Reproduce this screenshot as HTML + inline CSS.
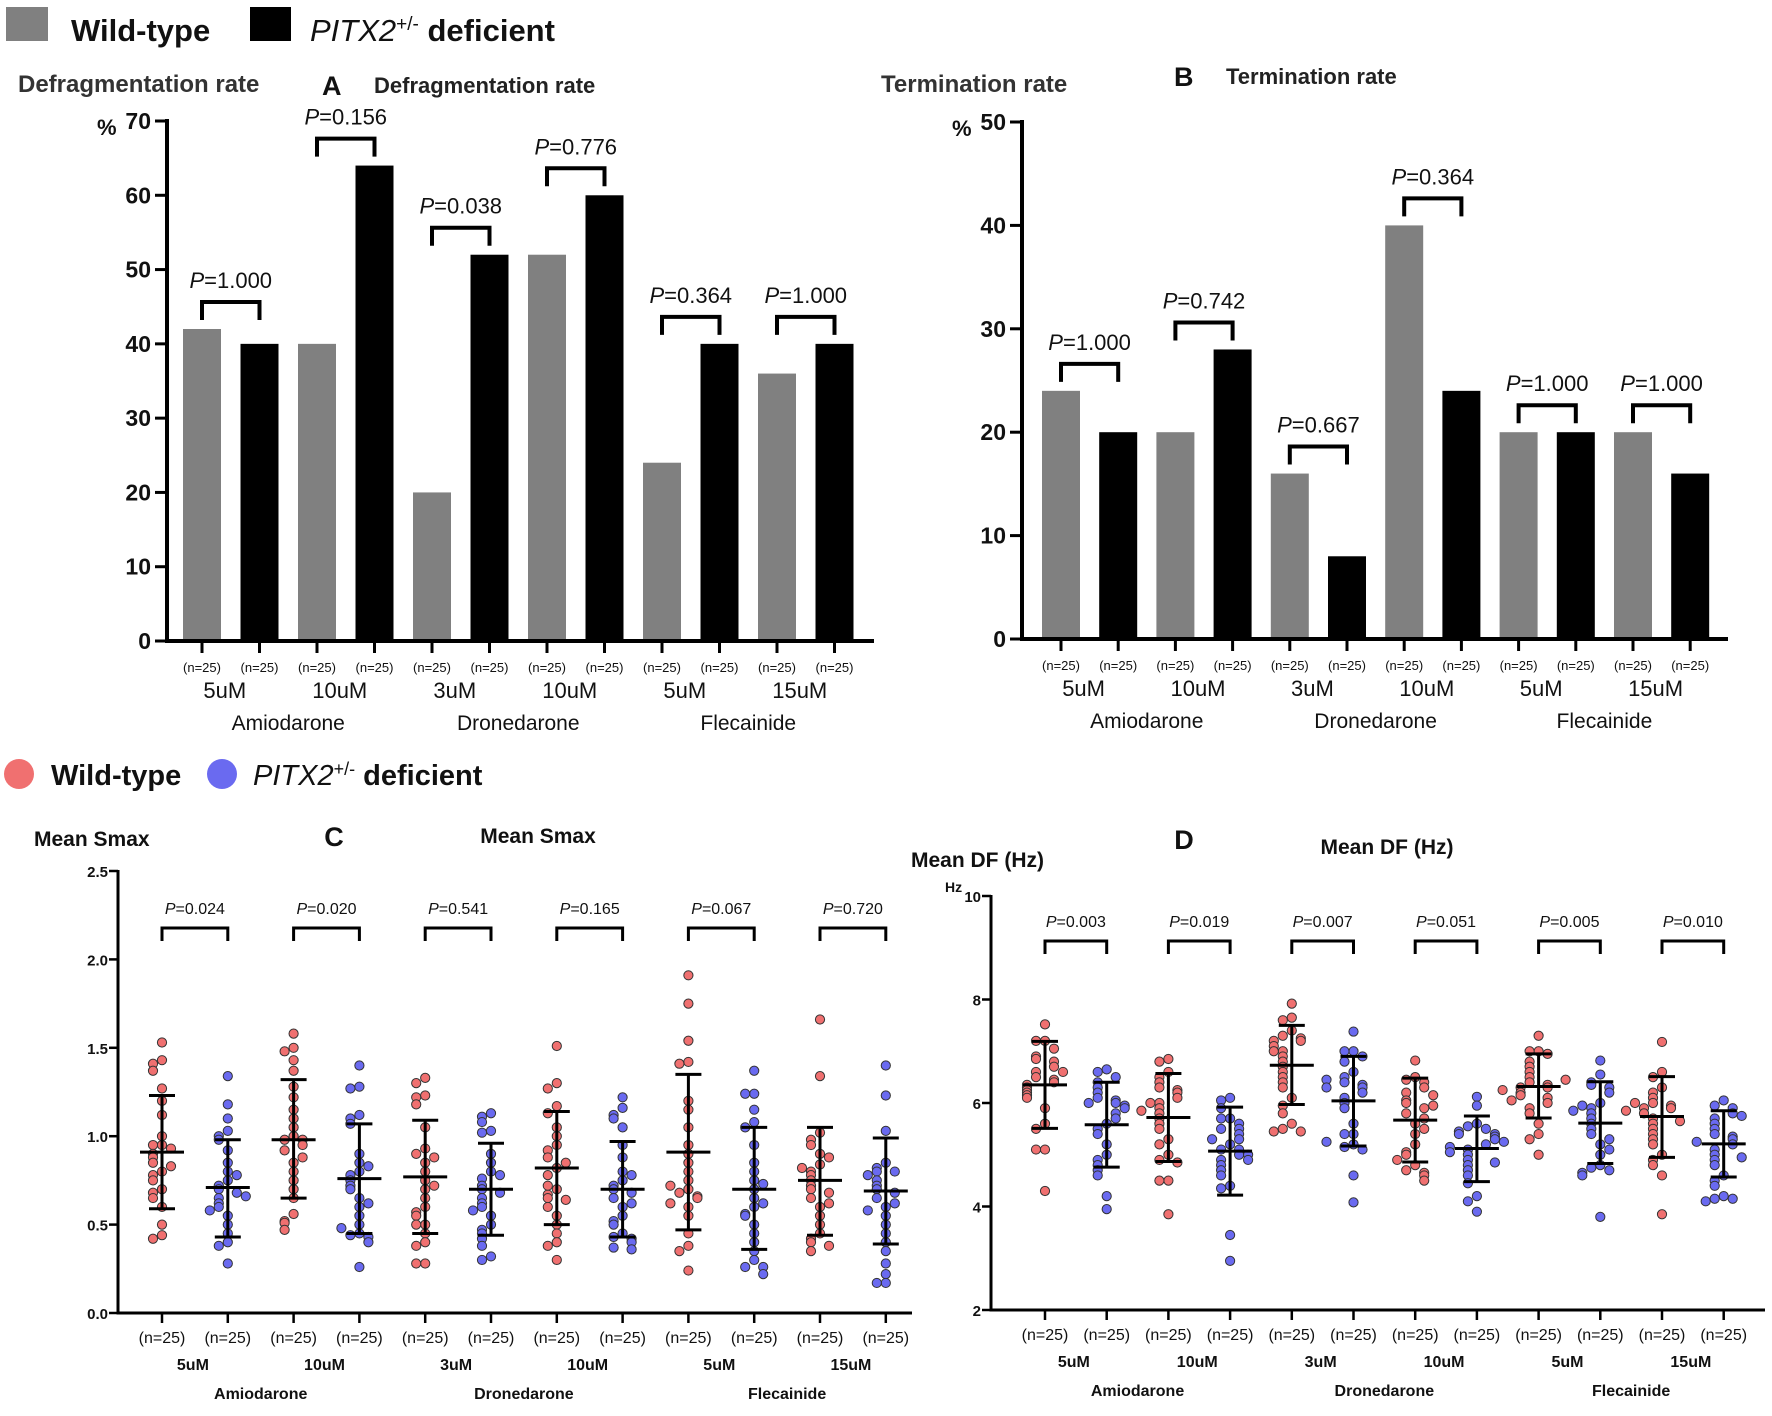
<!DOCTYPE html>
<html><head><meta charset="utf-8"><style>
html,body{margin:0;padding:0;background:#fff;}
svg{display:block;font-family:"Liberation Sans",Arial,sans-serif;}
</style></head><body>
<svg id="fig" width="1772" height="1416" viewBox="0 0 1772 1416" xmlns="http://www.w3.org/2000/svg">
<g>
<rect x="6" y="7" width="42" height="34" fill="#808080"/>
<text x="71" y="41" font-size="31" font-weight="bold" fill="#111">Wild-type</text>
<rect x="250" y="7" width="41" height="34" fill="#000"/>
<text x="310" y="41" font-size="31" font-weight="bold" fill="#111"><tspan font-style="italic" font-weight="normal">PITX2</tspan><tspan font-size="19" dy="-11" font-weight="normal">+/-</tspan><tspan dy="11"> deficient</tspan></text>
</g>
<g>
<circle cx="19" cy="774" r="15" fill="#f07070"/>
<text x="51" y="785" font-size="29" font-weight="bold" fill="#111">Wild-type</text>
<circle cx="222" cy="774" r="15" fill="#6a6af0"/>
<text x="253" y="785" font-size="29" font-weight="bold" fill="#111"><tspan font-style="italic" font-weight="normal">PITX2</tspan><tspan font-size="18" dy="-10" font-weight="normal">+/-</tspan><tspan dy="10"> deficient</tspan></text>
</g>
</svg>
<script>
const barWT_A=[42,40,20,52,24,36];
const barKO_A=[40,64,52,60,40,40];
const pA=["1.000","0.156","0.038","0.776","0.364","1.000"];
const barWT_B=[24,20,16,40,20,20];
const barKO_B=[20,28,8,24,20,16];
const pB=["1.000","0.742","0.667","0.364","1.000","1.000"];
const doses=["5uM","10uM","3uM","10uM","5uM","15uM"];
const drugs=["Amiodarone","Dronedarone","Flecainide"];
const pC=["0.024","0.020","0.541","0.165","0.067","0.720"];
const pD=["0.003","0.019","0.007","0.051","0.005","0.010"];
const ticksA=[0,10,20,30,40,50,60,70];
const ticksB=[0,10,20,30,40,50];
const ticksC=["0.0","0.5","1.0","1.5","2.0","2.5"];
const ticksD=[2,4,6,8,10];
const meanC=[0.91,0.71,0.98,0.76,0.77,0.70,0.82,0.70,0.91,0.70,0.75,0.69];
const upC=[1.23,0.98,1.32,1.07,1.09,0.96,1.14,0.97,1.35,1.05,1.05,0.99];
const loC=[0.59,0.43,0.65,0.45,0.45,0.44,0.50,0.43,0.47,0.36,0.44,0.39];
const ptsC=[
[1.53,1.43,1.41,1.37,1.27,1.2,1.12,1.0,0.95,0.95,0.93,0.9,0.88,0.85,0.8,0.78,0.75,0.7,0.68,0.65,0.6,0.5,0.44,0.42,0.83],
[1.34,1.18,1.1,1.03,1.0,0.98,0.92,0.85,0.8,0.75,0.72,0.7,0.68,0.65,0.62,0.6,0.55,0.5,0.45,0.4,0.38,0.28,0.66,0.58,0.78],
[1.58,1.5,1.48,1.43,1.37,1.28,1.22,1.15,1.05,1.0,0.98,0.98,0.95,0.92,0.85,0.8,0.75,0.7,0.65,0.56,0.52,0.51,0.47,1.1,0.88],
[1.4,1.28,1.27,1.12,1.1,1.07,0.9,0.85,0.8,0.78,0.75,0.72,0.7,0.65,0.6,0.55,0.5,0.45,0.44,0.43,0.4,0.26,0.83,0.62,0.48],
[1.33,1.3,1.23,1.22,1.18,1.05,0.93,0.9,0.85,0.8,0.75,0.7,0.65,0.6,0.57,0.55,0.5,0.5,0.45,0.4,0.38,0.28,0.28,0.88,0.72],
[1.13,1.11,1.08,1.03,1.02,0.9,0.85,0.8,0.76,0.72,0.7,0.68,0.65,0.62,0.6,0.55,0.5,0.47,0.45,0.42,0.38,0.32,0.3,0.78,0.58],
[1.51,1.3,1.27,1.17,1.13,1.05,1.0,0.95,0.92,0.88,0.82,0.78,0.7,0.67,0.65,0.64,0.6,0.55,0.5,0.45,0.4,0.38,0.3,0.85,0.72],
[1.22,1.16,1.12,1.1,1.05,0.95,0.88,0.8,0.75,0.72,0.7,0.68,0.65,0.6,0.55,0.52,0.5,0.45,0.43,0.42,0.4,0.37,0.36,0.62,0.78],
[1.91,1.75,1.54,1.42,1.41,1.2,1.15,1.05,0.95,0.85,0.8,0.75,0.7,0.68,0.66,0.65,0.6,0.55,0.45,0.38,0.35,0.24,0.9,0.72,0.62],
[1.37,1.24,1.24,1.15,1.08,1.05,0.95,0.85,0.75,0.7,0.65,0.6,0.56,0.55,0.5,0.45,0.4,0.35,0.3,0.26,0.26,0.22,0.73,0.62,0.8],
[1.66,1.34,1.02,0.98,0.95,0.9,0.84,0.8,0.78,0.75,0.72,0.7,0.68,0.65,0.6,0.55,0.5,0.45,0.42,0.4,0.38,0.35,0.62,0.82,0.88],
[1.4,1.23,1.03,0.85,0.82,0.8,0.8,0.78,0.75,0.72,0.7,0.68,0.65,0.6,0.55,0.5,0.45,0.4,0.35,0.28,0.22,0.17,0.17,0.62,0.58]];
const meanD=[6.35,5.58,5.72,5.07,6.73,6.04,5.67,5.12,6.32,5.61,5.74,5.21];
const upD=[7.19,6.40,6.57,5.92,7.50,6.90,6.48,5.75,6.95,6.41,6.51,5.85];
const loD=[5.51,4.76,4.87,4.22,5.97,5.17,4.86,4.48,5.71,4.83,4.95,4.57];
const ptsD=[
[7.52,7.2,7.2,7.05,6.9,6.85,6.8,6.7,6.6,6.5,6.45,6.4,6.35,6.3,6.25,6.2,6.15,6.1,5.9,5.6,5.5,5.1,5.1,4.3,6.6],
[6.65,6.6,6.5,6.4,6.3,6.2,6.1,6.05,6.0,6.0,5.95,5.9,5.8,5.6,5.5,5.4,5.2,5.0,4.9,4.8,4.7,4.6,4.2,3.95,5.7],
[6.85,6.8,6.6,6.5,6.4,6.3,6.25,6.2,6.1,6.0,5.9,5.8,5.7,5.6,5.5,5.3,5.0,4.9,4.85,4.5,4.5,3.85,6.0,5.85,5.2],
[6.1,6.05,5.9,5.7,5.7,5.6,5.5,5.5,5.4,5.2,5.1,5.1,5.0,4.9,4.8,4.7,4.4,4.35,3.45,2.95,5.3,5.3,5.0,4.6,4.9],
[7.92,7.65,7.6,7.4,7.3,7.25,7.2,7.2,7.1,7.0,6.9,6.8,6.7,6.6,6.5,6.4,6.3,6.1,5.95,5.8,5.6,5.5,5.45,5.45,7.0],
[7.38,7.0,7.0,6.9,6.8,6.6,6.5,6.4,6.35,6.3,6.2,6.1,6.0,5.9,5.6,5.4,5.4,5.2,5.15,5.1,4.6,4.08,6.45,6.3,5.25],
[6.82,6.5,6.45,6.4,6.3,6.2,6.05,6.0,5.9,5.6,5.4,5.2,5.05,5.0,4.8,4.7,4.65,4.6,4.5,5.8,5.95,5.7,5.5,6.15,4.9],
[6.12,5.95,5.6,5.55,5.5,5.45,5.4,5.4,5.35,5.3,5.2,5.1,5.0,4.9,4.8,4.7,4.6,4.45,4.2,4.1,3.9,5.25,5.15,5.05,4.85],
[7.3,7.0,7.0,6.95,6.8,6.7,6.6,6.5,6.4,6.35,6.3,6.3,6.2,6.15,6.1,6.0,5.9,5.8,5.6,5.4,5.3,5.0,6.25,6.45,6.05],
[6.82,6.55,6.4,6.35,6.3,6.2,6.0,5.9,5.8,5.7,5.6,5.5,5.4,5.2,5.0,4.8,4.75,4.7,4.65,4.6,3.8,5.95,5.85,5.3,5.1],
[7.18,6.6,6.5,6.3,6.2,6.1,6.0,5.95,5.9,5.9,5.8,5.7,5.6,5.5,5.4,5.3,5.2,5.0,4.9,4.8,4.6,3.85,6.0,5.85,5.65],
[6.05,5.95,5.9,5.8,5.7,5.6,5.5,5.4,5.35,5.3,5.2,5.1,5.0,4.9,4.8,4.6,4.5,4.4,4.2,4.15,4.15,4.1,5.75,5.25,4.95]];

const svg=document.getElementById('fig');
const NS='http://www.w3.org/2000/svg';
function mk(tag,attrs,parent,txt){const e=document.createElementNS(NS,tag);for(const k in attrs)e.setAttribute(k,attrs[k]);if(txt!==undefined)e.textContent=txt;(parent||svg).appendChild(e);return e;}
function line(g,x1,y1,x2,y2,w){return mk('line',{x1,y1,x2,y2,stroke:'#000','stroke-width':w},g);}
function ptext(g,x,y,val,fs){const t=mk('text',{x,y,'font-size':fs,'text-anchor':'middle',fill:'#111'},g);const a=document.createElementNS(NS,'tspan');a.setAttribute('font-style','italic');a.textContent='P';t.appendChild(a);const b=document.createElementNS(NS,'tspan');b.textContent='='+val;t.appendChild(b);return t;}

function barPanel(cfg){
  const g=mk('g',{});
  
  
  const y=v=>cfg.y0-(v-cfg.min)/(cfg.max-cfg.min)*(cfg.y0-cfg.yTop);
  const xc=i=>cfg.x1+i*cfg.step;
  const t1=mk('text',{x:cfg.ltx,y:cfg.lty,'font-size':24,'font-weight':'bold',fill:'#333'},g,cfg.title);
  
  
  const t2=mk('text',{x:cfg.lx,y:cfg.ly,'font-size':27,'font-weight':'bold',fill:'#111'},g,cfg.letter);
  
  
  const t3=mk('text',{x:cfg.lx+52,y:cfg.ly-2,'font-size':22,'font-weight':'bold',fill:'#222'},g,cfg.title);
  
  
  const pc=mk('text',{x:cfg.ax-70,y:cfg.yTop+14,'font-size':22,'font-weight':'bold',fill:'#111'},g,'%');
  
  
  cfg.ticks.forEach(v=>{const yy=y(v);line(g,cfg.ax-12,yy,cfg.ax,yy,3);
    const tl=mk('text',{x:cfg.ax-16,y:yy+8,'font-size':23,'font-weight':'bold','text-anchor':'end',fill:'#111'},g,String(v));
    
    });
  for(let k=0;k<6;k++){
    [[cfg.wt[k],'#808080',2*k],[cfg.ko[k],'#000',2*k+1]].forEach(([v,c,i])=>{
      const r=mk('rect',{x:xc(i)-19,y:y(v),width:38,height:cfg.y0-y(v),fill:c},g);
      
      
    });
    const top=Math.min(y(cfg.wt[k]),y(cfg.ko[k]))-27;
    const br=mk('path',{d:`M${xc(2*k)} ${top+18}V${top}H${xc(2*k+1)}V${top+18}`,fill:'none',stroke:'#000','stroke-width':4},g);
    
    
    const pt=ptext(g,(xc(2*k)+xc(2*k+1))/2,top-14,cfg.p[k],22);
    
    
    const dl=mk('text',{x:(xc(2*k)+xc(2*k+1))/2-6,y:cfg.y0+57,'font-size':22,'text-anchor':'middle',fill:'#111'},g,doses[k]);
    
    
  }
  for(let i=0;i<12;i++){line(g,xc(i),cfg.y0,xc(i),cfg.y0+12,3);
    const nl=mk('text',{x:xc(i),y:cfg.y0+31,'font-size':13,'text-anchor':'middle',fill:'#111'},g,'(n=25)');
    
    }
  drugs.forEach((d,j)=>{const cx=(xc(4*j)+xc(4*j+3))/2;
    const gl=mk('text',{x:cx,y:cfg.y0+89,'font-size':21,'text-anchor':'middle',fill:'#111'},g,d);
    
    });
  line(g,cfg.ax,cfg.yTop-2,cfg.ax,cfg.y0+1.5,4);
  line(g,cfg.ax-2,cfg.y0,cfg.right,cfg.y0,4);
}
barPanel({name:'panel-a-defragmentation',letter:'A',wt:barWT_A,ko:barKO_A,p:pA,ticks:ticksA,min:0,max:70,yTop:121,y0:641,ax:167,x1:202,step:57.5,right:874,title:'Defragmentation rate',ltx:18,lty:92,lx:322,ly:95});
barPanel({name:'panel-b-termination',letter:'B',wt:barWT_B,ko:barKO_B,p:pB,ticks:ticksB,min:0,max:50,yTop:122,y0:639,ax:1022,x1:1061,step:57.2,right:1728,title:'Termination rate',ltx:881,lty:92,lx:1174,ly:86});

function dotPanel(cfg){
  const g=mk('g',{});
  
  
  const y=v=>cfg.y0-(v-cfg.min)/(cfg.max-cfg.min)*(cfg.y0-cfg.yTop);
  const xc=i=>cfg.x1+i*cfg.step;
  const t1=mk('text',{x:cfg.ltx,y:cfg.lty,'font-size':21,'font-weight':'bold',fill:'#111'},g,cfg.title);
  
  
  const t2=mk('text',{x:cfg.lx,y:cfg.ly,'font-size':27,'font-weight':'bold','text-anchor':'middle',fill:'#111'},g,cfg.letter);
  
  
  const t3=mk('text',{x:cfg.tx,y:cfg.ty,'font-size':21,'font-weight':'bold','text-anchor':'middle',fill:'#111'},g,cfg.title);
  
  
  if(cfg.unit){const u=mk('text',{x:cfg.ax-46,y:cfg.yTop-4,'font-size':14,'font-weight':'bold',fill:'#111'},g,cfg.unit);
    
    }
  cfg.ticks.forEach(v=>{const yy=y(parseFloat(v));line(g,cfg.ax-9,yy,cfg.ax,yy,2.5);
    const tl=mk('text',{x:cfg.ax-10,y:yy+6,'font-size':15,'font-weight':'bold','text-anchor':'end',fill:'#111'},g,String(v));
    
    });
  for(let i=0;i<12;i++){
    const c=xc(i), col=i%2===0?'#f07070':'#6a6af0';
    const pts=cfg.pts[i];
    const placed=[];
    pts.forEach(v=>{
      const yy=y(v); let n=placed.filter(q=>Math.abs(q-yy)<8).length;
      placed.push(yy);
      const off=(n%2===0?1:-1)*Math.ceil(n/2)*9;
      const d=mk('circle',{cx:c+off,cy:yy,r:4.6,fill:col,stroke:'#333','stroke-width':1},g);
      
      
    });
    const eb=mk('path',{d:`M${c} ${y(cfg.up[i])}V${y(cfg.lo[i])}M${c-13} ${y(cfg.up[i])}H${c+13}M${c-13} ${y(cfg.lo[i])}H${c+13}M${c-22} ${y(cfg.mean[i])}H${c+22}`,fill:'none',stroke:'#000','stroke-width':3},g);
    
    
    line(g,c,cfg.y0,c,cfg.y0+10,2.5);
    const nl=mk('text',{x:c,y:cfg.y0+30,'font-size':16,'text-anchor':'middle',fill:'#111'},g,'(n=25)');
    
    
  }
  for(let k=0;k<6;k++){
    const a=xc(2*k),b=xc(2*k+1);
    const br=mk('path',{d:`M${a} ${cfg.brY+13}V${cfg.brY}H${b}V${cfg.brY+13}`,fill:'none',stroke:'#000','stroke-width':3},g);
    
    
    const pt=ptext(g,(a+b)/2,cfg.brY-14,cfg.p[k],16);
    
    
    const dl=mk('text',{x:(a+b)/2-2,y:cfg.y0+57,'font-size':16,'font-weight':'bold','text-anchor':'middle',fill:'#111'},g,doses[k]);
    
    
  }
  drugs.forEach((d,j)=>{const cx=(xc(4*j)+xc(4*j+3))/2;
    const gl=mk('text',{x:cx,y:cfg.y0+86,'font-size':16,'font-weight':'bold','text-anchor':'middle',fill:'#111'},g,d);
    
    });
  line(g,cfg.ax,cfg.yTop-1,cfg.ax,cfg.y0+1.5,3);
  line(g,cfg.ax-1.5,cfg.y0,cfg.right,cfg.y0,3);
}
dotPanel({name:'panel-c-mean-smax',letter:'C',title:'Mean Smax',pts:ptsC,mean:meanC,up:upC,lo:loC,p:pC,ticks:ticksC,min:0,max:2.5,yTop:871,y0:1313,ax:118,x1:162,step:65.8,right:912,ltx:34,lty:846,lx:334,ly:846,tx:538,ty:843,brY:928});
dotPanel({name:'panel-d-mean-df',letter:'D',title:'Mean DF (Hz)',unit:'Hz',pts:ptsD,mean:meanD,up:upD,lo:loD,p:pD,ticks:ticksD,min:2,max:10,yTop:896,y0:1310,ax:991,x1:1045,step:61.7,right:1765,ltx:911,lty:867,lx:1184,ly:849,tx:1387,ty:854,brY:941});
</script>
</body></html>
